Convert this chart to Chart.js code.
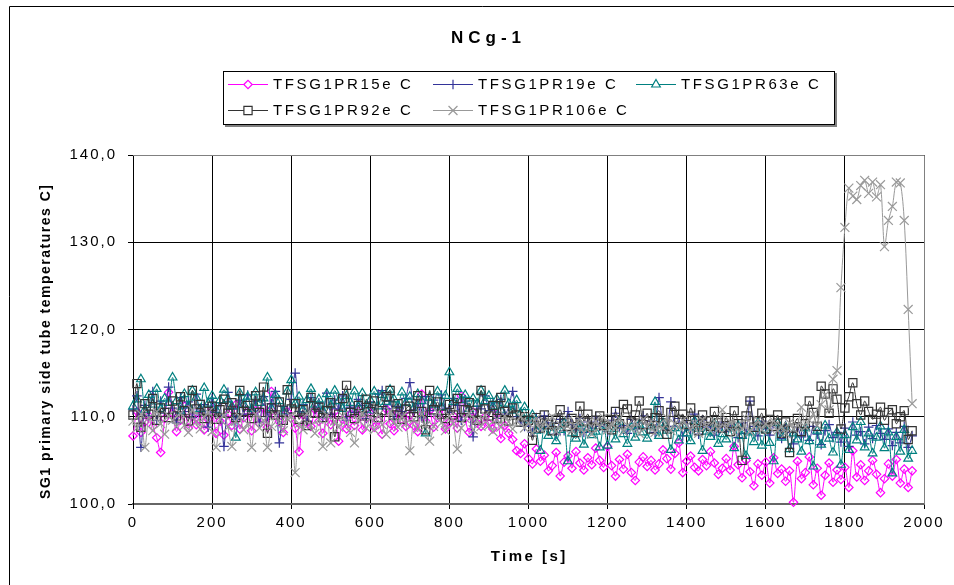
<!DOCTYPE html>
<html>
<head>
<meta charset="utf-8">
<title>NCg-1</title>
<script src="https://cdn.jsdelivr.net/npm/chart.js@4.4.1/dist/chart.umd.min.js"></script>
<style>
  html, body { margin: 0; padding: 0; background: #fff; }
  #chart { display: block; }
</style>
</head>
<body>
<canvas id="chart" width="954" height="585"></canvas>
<script>
// NCg-1 : SG1 primary side tube temperatures

const chartTitle = 'NCg-1';
const xTitle = 'Time [s]';
const yTitle = 'SG1 primary side tube temperatures C]';

const xTicks = [0, 200, 400, 600, 800, 1000, 1200, 1400, 1600, 1800, 2000];
const yTicks = [100, 110, 120, 130, 140];

const seriesNames = ['TFSG1PR15e C', 'TFSG1PR19e C', 'TFSG1PR63e C', 'TFSG1PR92e C', 'TFSG1PR106e C'];

// time [s] of each sample
const times = [
    0, 10, 20, 30, 40, 50, 60, 70, 80, 90,
    100, 110, 120, 130, 140, 150, 160, 170, 180, 190,
    200, 210, 220, 230, 240, 250, 260, 270, 280, 290,
    300, 310, 320, 330, 340, 350, 360, 370, 380, 390,
    400, 410, 420, 430, 440, 450, 460, 470, 480, 490,
    500, 510, 520, 530, 540, 550, 560, 570, 580, 590,
    600, 610, 620, 630, 640, 650, 660, 670, 680, 690,
    700, 710, 720, 730, 740, 750, 760, 770, 780, 790,
    800, 810, 820, 830, 840, 850, 860, 870, 880, 890,
    900, 910, 920, 930, 940, 950, 960, 970, 980, 990,
    1000, 1010, 1020, 1030, 1040, 1050, 1060, 1070, 1080, 1090,
    1100, 1110, 1120, 1130, 1140, 1150, 1160, 1170, 1180, 1190,
    1200, 1210, 1220, 1230, 1240, 1250, 1260, 1270, 1280, 1290,
    1300, 1310, 1320, 1330, 1340, 1350, 1360, 1370, 1380, 1390,
    1400, 1410, 1420, 1430, 1440, 1450, 1460, 1470, 1480, 1490,
    1500, 1510, 1520, 1530, 1540, 1550, 1560, 1570, 1580, 1590,
    1600, 1610, 1620, 1630, 1640, 1650, 1660, 1670, 1680, 1690,
    1700, 1710, 1720, 1730, 1740, 1750, 1760, 1770, 1780, 1790,
    1800, 1810, 1820, 1830, 1840, 1850, 1860, 1870, 1880, 1890,
    1900, 1910, 1920, 1930, 1940, 1950, 1960, 1970
];

const tfsg1pr15 = [
    107.8, 110.6, 108.2, 109.4, 110.1, 108.9, 107.6, 105.9, 109.8, 112.8,
    110.4, 108.3, 109.6, 111.2, 108.7, 110.0, 109.1, 110.8, 108.5, 109.7,
    110.9, 108.1, 109.5, 107.9, 110.3, 109.0, 111.4, 108.6, 109.9, 110.5,
    108.4, 110.7, 109.2, 111.0, 108.8, 112.9, 110.1, 109.4, 108.2, 110.6,
    109.8, 108.7, 106.0, 110.2, 109.3, 108.9, 110.8, 109.5, 108.1, 110.0,
    109.1, 110.6, 107.2, 109.7, 108.6, 110.3, 109.0, 111.1, 108.5, 109.8,
    110.4, 108.8, 109.6, 108.0, 110.9, 109.2, 108.4, 110.5, 109.7, 108.9,
    110.2, 109.0, 108.3, 112.6, 109.5, 110.7, 108.8, 109.9, 111.0, 108.6,
    109.4, 110.1, 108.7, 112.4, 109.8, 108.2, 110.5, 109.3, 108.9, 110.0,
    109.2, 108.6, 110.3, 107.5, 109.0, 108.1, 107.4, 106.1, 105.8, 106.9,
    105.2, 104.6, 106.3, 104.9, 105.6, 103.8, 104.4, 105.9, 103.2, 104.8,
    105.5, 104.1, 106.0, 104.7, 103.9, 105.3, 104.5, 106.4, 105.0, 104.2,
    106.6, 104.4, 103.2, 105.1, 104.0, 105.7, 103.6, 102.7, 104.8, 105.4,
    104.3, 105.0, 103.9, 104.6, 106.2, 105.2, 104.0, 105.8, 107.0, 103.6,
    104.9, 105.5, 104.2, 103.8, 105.1, 104.4, 106.0, 104.7, 103.4, 104.1,
    105.2, 103.9, 106.6, 104.5, 103.0, 105.0, 103.7, 102.1, 104.6, 103.3,
    104.8, 102.4, 105.3, 103.5, 104.0, 102.6, 103.8, 100.2, 104.9, 102.9,
    103.6, 105.4, 102.2, 104.1, 101.0, 103.3, 104.7, 102.5, 103.9, 102.8,
    104.2, 101.9, 106.1, 103.1, 104.5, 102.7, 103.8, 105.0, 103.4, 101.3,
    102.9, 104.6, 103.2, 105.1, 102.4, 104.0, 101.9, 103.8
];

const tfsg1pr19 = [
    110.8, 112.4, 106.5, 111.3, 110.1, 112.9, 109.6, 111.8, 110.4, 113.4,
    111.0, 109.3, 112.2, 110.6, 111.7, 109.9, 112.6, 110.2, 111.4, 108.8,
    112.1, 110.5, 111.6, 106.6, 112.8, 110.9, 109.7, 111.9, 110.3, 112.5,
    110.7, 111.8, 109.4, 112.3, 110.0, 111.5, 112.9, 107.0, 111.2, 110.4,
    112.0, 115.0, 110.6, 111.4, 109.5, 112.2, 110.8, 111.6, 109.9, 112.7,
    110.3, 111.9, 110.9, 112.4, 109.6, 111.1, 110.5, 112.0, 111.3, 109.8,
    111.7, 110.4, 112.6, 113.0, 110.9, 111.8, 109.7, 111.2, 110.6, 112.1,
    113.9, 110.8, 111.5, 109.9, 112.3, 110.7, 111.9, 110.2, 112.5, 111.0,
    110.5, 112.1, 111.3, 109.6, 111.8, 110.4, 107.7, 111.2, 110.9, 112.4,
    110.7, 111.6, 109.8, 112.0, 110.3, 111.1, 112.9, 110.0, 109.4, 108.9,
    109.5, 108.2, 109.9, 108.6, 110.1, 108.9, 109.3, 108.0, 109.7, 108.4,
    110.6, 109.1, 108.5, 109.8, 108.2, 109.4, 108.7, 110.0, 108.9, 109.2,
    108.3, 109.6, 110.4, 108.8, 109.0, 108.1, 109.7, 108.6, 109.3, 110.1,
    108.7, 109.5, 108.2, 112.2, 109.0, 108.4, 111.7, 108.9, 109.8, 107.8,
    109.2, 108.5, 110.3, 108.0, 109.6, 108.8, 109.1, 107.9, 108.6, 109.4,
    108.3, 109.0, 108.7, 107.6, 109.3, 108.1, 111.8, 108.9, 107.8, 109.5,
    108.6, 107.9, 109.2, 108.4, 107.5, 109.0, 108.2, 106.9, 108.8, 107.7,
    108.5, 107.3, 108.9, 108.0, 106.8, 108.4, 109.1, 107.6, 108.2, 107.1,
    108.7, 106.6, 109.4, 107.9, 108.3, 106.9, 108.8, 107.5, 109.0, 108.1,
    107.4, 108.6, 106.7, 108.2, 107.0, 108.9, 106.5, 107.8
];

const tfsg1pr63 = [
    111.2, 112.0, 114.3, 110.8, 112.5, 111.4, 113.2, 110.9, 112.1, 111.6,
    114.5, 111.8, 110.7, 112.6, 111.3, 113.0, 112.2, 110.9, 113.3, 111.5,
    112.4, 110.8, 111.9, 113.1, 112.0, 111.2, 107.6, 112.7, 111.4, 112.3,
    110.9, 112.8, 111.6, 112.1, 114.5, 111.0, 112.5, 111.8, 110.6, 112.9,
    114.2, 111.5, 112.3, 110.8, 111.9, 113.2, 111.4, 112.0, 110.7, 112.6,
    111.3, 113.0, 111.8, 110.9, 112.4, 111.6, 112.9, 111.1, 112.7, 110.8,
    111.9, 112.9, 111.2, 112.5, 111.7, 113.1, 112.0, 111.3, 112.8, 111.6,
    112.3, 111.0, 112.6, 111.8, 108.1, 112.2, 111.4, 112.9, 111.1, 112.4,
    115.1, 111.7, 113.2, 111.9, 112.5, 110.9, 112.1, 111.5, 113.0, 111.8,
    112.4, 111.2, 112.0, 110.8, 113.0, 111.5, 110.7, 111.9, 110.4, 111.1,
    109.6, 110.2, 108.4, 106.1, 109.0, 107.8, 108.9, 107.2, 108.5, 109.3,
    104.9, 108.1, 107.5, 109.2, 106.8, 108.7, 107.9, 108.3, 106.5, 109.0,
    106.7, 108.6, 107.4, 109.4, 108.0, 106.9, 108.8, 107.6, 109.1, 108.2,
    107.5, 108.9, 111.7, 107.8, 109.3, 108.4, 106.2, 108.7, 107.3, 109.0,
    108.1, 107.2, 109.5, 108.6, 106.1, 108.3, 107.7, 109.2, 106.9, 108.0,
    107.4, 108.8, 106.4, 109.0, 107.8, 105.5, 108.2, 107.1, 109.3, 106.7,
    108.5, 107.0, 104.9, 109.3, 107.6, 108.8, 106.3, 108.1, 107.4, 106.0,
    108.7, 107.2, 104.3, 108.4, 106.8, 109.0, 107.5, 105.9, 108.2, 104.5,
    107.9, 106.2, 108.8, 107.3, 109.4, 106.5, 108.1, 105.8, 107.6, 108.9,
    106.4, 108.2, 103.5, 107.7, 106.0, 108.5, 105.2, 106.1
];

const tfsg1pr92 = [
    110.2, 113.8, 108.8, 111.5, 110.3, 112.1, 109.6, 111.0, 110.5, 109.9,
    111.8, 110.1, 112.3, 110.7, 109.5, 113.0, 110.9, 111.4, 109.8, 110.6,
    111.2, 109.7, 110.8, 112.0, 110.4, 111.6, 109.9, 113.0, 110.6, 111.3,
    109.8, 112.4, 110.5, 113.4, 108.1, 111.0, 110.2, 111.7, 109.6, 113.1,
    110.9, 111.5, 109.7, 110.8, 109.0, 112.2, 110.4, 111.1, 109.9, 110.7,
    111.6, 107.7, 110.3, 112.1, 113.6, 110.5, 109.8, 111.3, 110.1, 112.0,
    110.6, 111.8, 109.9, 110.7, 112.3, 113.0, 110.2, 111.5, 109.7, 110.9,
    111.2, 110.0, 112.4, 110.6, 108.5, 113.0, 110.8, 111.7, 110.3, 109.8,
    111.4, 110.2, 112.1, 109.9, 110.8, 111.6, 110.4, 109.6, 113.0, 110.9,
    110.1, 111.3, 109.8, 112.2, 110.6, 109.5, 111.0, 110.2, 109.4, 110.0,
    109.6, 107.3, 109.9, 108.7, 110.2, 109.1, 108.4, 109.7, 110.8, 109.3,
    108.9, 109.8, 108.2, 111.2, 109.5, 110.3, 108.8, 109.6, 110.1, 109.0,
    109.7, 108.5, 110.6, 109.2, 111.4, 110.9, 109.4, 110.2, 111.8, 109.1,
    110.4, 108.6, 109.9, 110.7, 109.3, 108.0, 110.5, 111.2, 109.7, 110.3,
    109.1, 111.0, 109.6, 108.4, 110.2, 109.5, 108.9, 110.6, 109.3, 108.7,
    109.9, 108.3, 110.7, 109.2, 105.0, 110.1, 111.8, 108.8, 109.5, 110.4,
    108.6, 109.7, 108.9, 110.2, 108.1, 109.4, 105.9, 108.7, 109.8, 108.3,
    109.2, 111.8, 110.5, 108.9, 113.5, 112.6, 110.4, 113.2, 112.0, 108.6,
    111.0, 112.3, 113.9, 111.5, 110.2, 111.8, 110.6, 109.7, 110.3, 111.1,
    109.6, 110.5, 110.8, 109.2, 110.0, 110.7, 107.4, 108.4
];

const tfsg1pr106 = [
    109.5, 108.7, 110.3, 106.5, 109.9, 108.4, 110.6, 109.2, 108.0, 110.1,
    109.6, 108.9, 110.4, 109.0, 108.2, 110.8, 109.4, 108.6, 109.9, 110.5,
    108.3, 106.5, 109.7, 110.2, 108.8, 106.6, 109.5, 110.0, 108.5, 109.2,
    106.5, 110.3, 108.7, 109.6, 106.5, 108.9, 110.1, 109.3, 108.4, 109.8,
    110.0, 103.6, 109.2, 108.5, 110.4, 109.0, 108.1, 109.7, 106.6, 110.2,
    107.0, 109.5, 108.8, 110.1, 109.3, 108.2, 107.0, 109.6, 110.4, 108.7,
    109.9, 108.5, 110.2, 109.1, 108.0, 110.6, 109.4, 108.8, 110.0, 109.2,
    106.1, 109.7, 108.6, 110.3, 109.0, 107.2, 108.9, 110.5, 109.3, 108.4,
    110.1, 109.2, 106.3, 108.7, 109.8, 110.4, 108.5, 109.6, 108.9, 110.2,
    109.0, 108.3, 109.7, 108.8, 110.1, 109.4, 108.6, 109.5, 110.0, 108.7,
    109.3, 108.1, 109.8, 108.6, 109.4, 108.9, 110.0, 108.3, 109.1, 108.7,
    109.6, 108.4, 108.9, 109.7, 108.2, 109.3, 108.0, 109.5, 108.8, 109.9,
    108.5, 109.2, 108.7, 109.8, 108.3, 109.0, 108.6, 109.4, 108.1, 109.7,
    108.9, 109.5, 108.2, 109.1, 108.7, 109.9, 108.4, 109.2, 108.8, 109.6,
    109.0, 108.5, 109.3, 108.1, 109.7, 108.9, 108.4, 109.5, 108.6, 110.8,
    108.7, 109.4, 108.2, 109.1, 108.6, 109.8, 108.3, 108.9, 109.6, 108.5,
    109.2, 108.7, 109.5, 108.4, 108.9, 108.1, 109.3, 108.6, 109.0, 111.1,
    108.8, 109.6, 110.3, 109.0, 111.4, 112.5, 110.8, 114.3, 115.3, 124.8,
    131.7, 136.2, 135.3, 134.9, 136.5, 137.1, 135.6, 136.9, 135.2, 136.6,
    129.5, 132.5, 134.1, 136.9, 136.8, 132.5, 122.3, 111.5
];

const seriesValues = [tfsg1pr15, tfsg1pr19, tfsg1pr63, tfsg1pr92, tfsg1pr106];

// look of each series (Excel default palette)
const seriesStyles = [
    { color: '#ff00ff', pointStyle: 'rectRot', radius: 4.2 },
    { color: '#333399', pointStyle: 'cross', radius: 4.8 },
    { color: '#008080', pointStyle: 'triangle', radius: 5 },
    { color: '#333333', pointStyle: 'rect', radius: 5.8 },
    { color: '#999999', pointStyle: 'crossRot', radius: 6.3 }
];

const FONT = '"Liberation Sans", Arial, sans-serif';
Chart.defaults.font.family = FONT;
Chart.defaults.color = '#000';

const datasets = seriesNames.map((name, i) => ({
    label: name,
    data: times.map((t, j) => ({ x: t, y: seriesValues[i][j] })),
    borderColor: seriesStyles[i].color,
    backgroundColor: 'transparent',
    borderWidth: 1,
    pointStyle: seriesStyles[i].pointStyle,
    pointRadius: seriesStyles[i].radius,
    pointBorderColor: seriesStyles[i].color,
    pointBackgroundColor: 'transparent',
    pointBorderWidth: 1.2,
    tension: 0.3,
    clip: false,
    order: seriesNames.length - i   // last series drawn on top, as in Excel
}));

/**
 * Draws frame, title, two-row legend and axis titles
 */
const decorations = {
    id: 'decorations',
    beforeDraw(chart) {
        const ctx = chart.ctx;
        ctx.save();
        ctx.fillStyle = '#fff';
        ctx.fillRect(0, 0, chart.width, chart.height);
        ctx.restore();
        // spaced-out tick labels like the original
        ctx.letterSpacing = '2px';
    },
    afterDraw(chart) {
        const ctx = chart.ctx;
        const area = chart.chartArea;
        ctx.save();

        // plot area border (top / right)
        ctx.strokeStyle = '#808080';
        ctx.lineWidth = 1;
        ctx.beginPath();
        ctx.moveTo(area.left, Math.round(area.top) + 0.5);
        ctx.lineTo(Math.round(area.right) + 0.5, Math.round(area.top) + 0.5);
        ctx.lineTo(Math.round(area.right) + 0.5, area.bottom);
        ctx.stroke();

        // outer chart frame
        ctx.strokeStyle = '#000';
        ctx.beginPath();
        ctx.moveTo(9.5, chart.height + 5);
        ctx.lineTo(9.5, 6.5);
        ctx.lineTo(chart.width + 5, 6.5);
        ctx.stroke();

        // title
        ctx.fillStyle = '#000';
        ctx.font = 'bold 17px ' + FONT;
        ctx.letterSpacing = '5px';
        ctx.textBaseline = 'alphabetic';
        ctx.textAlign = 'left';
        let w = ctx.measureText(chartTitle).width - 5;
        ctx.fillText(chartTitle, 486 - w / 2, 43);

        // x axis title
        ctx.font = 'bold 15px ' + FONT;
        ctx.letterSpacing = '2.5px';
        w = ctx.measureText(xTitle).width - 2.5;
        ctx.fillText(xTitle, 528 - w / 2, 561);

        // y axis title
        ctx.font = 'bold 14px ' + FONT;
        ctx.letterSpacing = '1.5px';
        w = ctx.measureText(yTitle).width - 1.5;
        ctx.save();
        ctx.translate(50, 342);
        ctx.rotate(-Math.PI / 2);
        ctx.fillText(yTitle, -w / 2, 0);
        ctx.restore();

        // legend box with shadow
        const box = { x: 223, y: 71, w: 612, h: 54 };
        ctx.fillStyle = '#808080';
        ctx.fillRect(box.x + 2, box.y + box.h, box.w, 2);
        ctx.fillRect(box.x + box.w, box.y + 2, 2, box.h);
        ctx.fillStyle = '#fff';
        ctx.fillRect(box.x, box.y, box.w, box.h);
        ctx.strokeStyle = '#000';
        ctx.strokeRect(box.x + 0.5, box.y + 0.5, box.w - 1, box.h - 1);

        const cols = [228, 433, 636];
        const rows = [84, 110];
        ctx.font = '15px ' + FONT;
        ctx.letterSpacing = '2.6px';
        chart.data.datasets.forEach((ds, i) => {
            const x0 = cols[i % 3];
            const y0 = rows[Math.floor(i / 3)];
            ctx.strokeStyle = ds.borderColor;
            ctx.lineWidth = 1.2;
            ctx.beginPath();
            ctx.moveTo(x0, y0 + 0.5);
            ctx.lineTo(x0 + 40, y0 + 0.5);
            ctx.stroke();
            ctx.fillStyle = '#fff';
            Chart.helpers.drawPoint(ctx, {
                pointStyle: ds.pointStyle,
                radius: ds.pointRadius,
                borderWidth: 1.2,
                rotation: 0
            }, x0 + 20, y0 + 0.5);
            ctx.fillStyle = '#000';
            ctx.fillText(ds.label, x0 + 45, y0 + 5);
        });

        ctx.restore();
    }
};

const ctx = document.getElementById('chart').getContext('2d');
new Chart(ctx, {
    type: 'line',
    data: { datasets: datasets },
    plugins: [decorations],
    options: {
        responsive: false,
        animation: false,
        devicePixelRatio: 1,
        layout: { padding: { top: 155, right: 30, left: 0, bottom: 0 } },
        plugins: {
            legend: { display: false },
            title: { display: false },
            tooltip: { enabled: false }
        },
        scales: {
            x: {
                type: 'linear',
                min: xTicks[0],
                max: xTicks[xTicks.length - 1],
                afterBuildTicks: (scale) => { scale.ticks = xTicks.map(v => ({ value: v })); },
                afterFit: (scale) => { scale.height = 81; },
                grid: { color: '#000', lineWidth: 1, tickLength: 5, tickColor: '#000' },
                border: { color: '#666', width: 2 },
                ticks: {
                    color: '#000',
                    font: { size: 15 },
                    padding: 5,
                    maxRotation: 0,
                    callback: (v) => String(v)
                }
            },
            y: {
                type: 'linear',
                min: yTicks[0],
                max: yTicks[yTicks.length - 1],
                afterBuildTicks: (scale) => { scale.ticks = yTicks.map(v => ({ value: v })); },
                afterFit: (scale) => { scale.width = 133; },
                grid: { color: '#000', lineWidth: 1, tickLength: 5, tickColor: '#000' },
                border: { color: '#000', width: 1 },
                ticks: {
                    color: '#000',
                    font: { size: 15 },
                    padding: 11,
                    callback: (v) => v.toFixed(1).replace('.', ',')
                }
            }
        }
    }
});
</script>
</body>
</html>
